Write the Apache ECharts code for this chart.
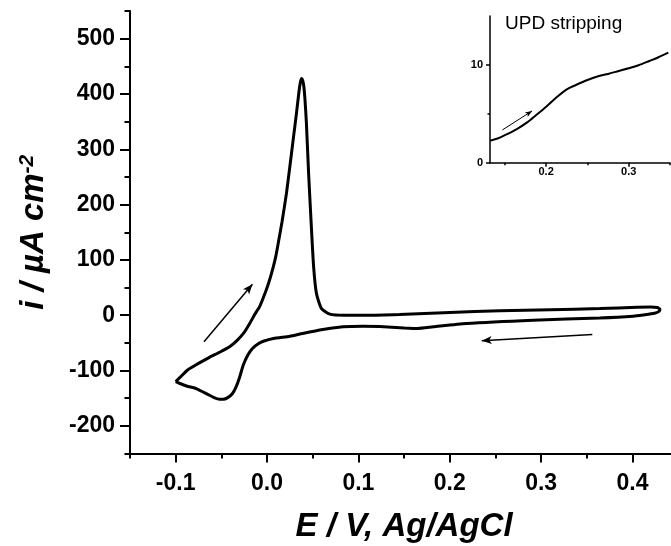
<!DOCTYPE html>
<html><head><meta charset="utf-8">
<script src="https://cdn.jsdelivr.net/npm/echarts@6/dist/echarts.min.js"></script>
<style>html,body{margin:0;padding:0;background:#fff}#c{width:671px;height:546px}</style>
</head><body><div id="c"></div>
<script>
// Main cyclic voltammogram, in path order (anodic sweep, then cathodic sweep)
const cvPotential = [-0.100,-0.095,-0.087,-0.076,-0.064,-0.052,-0.041,-0.033,-0.025,-0.019,-0.014,-0.008,-0.001,0.003,0.0066,0.0095,0.012,0.0165,0.0212,0.0249,0.0285,0.0322,0.0350,0.0365,0.0378,0.0391,0.0403,0.0415,0.0430,0.0455,0.0483,0.0510,0.0541,0.0596,0.0687,0.085,0.110,0.145,0.200,0.255,0.310,0.364,0.405,0.420,0.427,0.430,0.429,0.424,0.412,0.401,0.364,0.291,0.218,0.182,0.165,0.150,0.123,0.105,0.083,0.061,0.039,0.025,0.007,-0.004,-0.010,-0.016,-0.021,-0.026,-0.030,-0.034,-0.038,-0.043,-0.048,-0.052,-0.058,-0.065,-0.077,-0.088,-0.096,-0.100];
const cvCurrent = [-120,-112,-99,-88,-77,-67,-57,-46,-31,-15,0,16,45,65,86,106,128,170,220,268,316,365,405,421,428,424,413,390,350,256,166,87,39,12,2,0,0,1.5,5,8,10,12,14.5,15,14,11,7,3.5,0.5,-1.8,-5,-9,-15,-21,-24,-23,-20.5,-20,-21,-26,-33,-38,-42,-47,-52,-60,-72,-90,-112,-130,-142,-149,-152,-152,-149,-143,-133,-128,-123,-120];
// Inset: UPD stripping region
const insetPotential = [0.132,0.142,0.152,0.164,0.177,0.188,0.200,0.212,0.225,0.236,0.250,0.264,0.275,0.288,0.300,0.312,0.325,0.336,0.348];
const insetCurrent = [2.25,2.50,2.90,3.42,4.13,4.88,5.73,6.65,7.51,7.95,8.46,8.87,9.08,9.39,9.66,9.97,10.41,10.79,11.26];
// Ticks
const xMajorTicks = [-0.1,0,0.1,0.2,0.3,0.4];
const xMinorTicks = [-0.15,-0.05,0.05,0.15,0.25,0.35,0.45];
const yMajorTicks = [-200,-100,0,100,200,300,400,500];
const yMinorTicks = [-250,-150,-50,50,150,250,350,450,550];
const insetXMajor = [0.2,0.3];
const insetXMinor = [0.15,0.25,0.35];
const insetYMajor = [0,10];
const insetYMinor = [5];
// Sweep direction arrows [tail, head]
const arrowUp = [[-0.069,-48],[-0.016,56]];
const arrowBack = [[0.356,-35],[0.235,-46]];
const insetArrow = [[0.147,3.35],[0.183,5.3]];

const FF = '"Liberation Sans", Arial, sans-serif';
const cvData = cvPotential.map((v,i)=>[v,cvCurrent[i]]);
const insetData = insetPotential.map((v,i)=>[v,insetCurrent[i]]);

function ax(o){
  return Object.assign({
    type:'value', splitLine:{show:false},
    axisLine:{show:true,onZero:false,lineStyle:{color:'#000',width:2}},
  }, o);
}
const hidden = {show:false,onZero:false};
const chart = echarts.init(document.getElementById('c'), null, {renderer:'canvas'});
chart.setOption({
  animation:false,
  backgroundColor:'#fff',
  grid:[
    {left:130, top:11, right:-7.2, bottom:92.5, outerBoundsMode:'none', containLabel:false},
    {left:490, top:16.1, right:1, bottom:383.3, outerBoundsMode:'none', containLabel:false}
  ],
  xAxis:[
    ax({gridIndex:0, min:-0.15, max:0.45, position:'bottom',
      axisTick:{customValues:xMajorTicks, length:9, lineStyle:{color:'#000',width:2}},
      axisLabel:{customValues:xMajorTicks, formatter:v=>v.toFixed(1), fontSize:23, fontWeight:'bold', fontFamily:FF, color:'#000', margin:19},
      name:'E / V, Ag/AgCl', nameLocation:'middle', nameGap:57,
      nameTextStyle:{fontSize:33, fontWeight:'bold', fontStyle:'italic', fontFamily:FF, color:'#000'}}),
    ax({gridIndex:0, min:-0.15, max:0.45, position:'bottom', axisLine:hidden,
      axisTick:{customValues:xMinorTicks, length:5, lineStyle:{color:'#000',width:2}},
      axisLabel:{show:false}}),
    ax({gridIndex:1, min:0.132, max:0.35, position:'bottom', axisLine:{show:true,onZero:false,lineStyle:{color:'#000',width:1.5}},
      axisTick:{customValues:insetXMajor, length:4, lineStyle:{color:'#000',width:1.5}},
      axisLabel:{customValues:insetXMajor, formatter:v=>v.toFixed(1), fontSize:11, fontWeight:'bold', fontFamily:FF, color:'#000', margin:4}}),
    ax({gridIndex:1, min:0.132, max:0.35, position:'bottom', axisLine:hidden,
      axisTick:{customValues:insetXMinor, length:2.5, lineStyle:{color:'#000',width:1.5}},
      axisLabel:{show:false}})
  ],
  yAxis:[
    ax({gridIndex:0, min:-250, max:550, position:'left',
      axisTick:{customValues:yMajorTicks, length:10, lineStyle:{color:'#000',width:2}},
      axisLabel:{customValues:yMajorTicks, fontSize:23, fontWeight:'bold', fontFamily:FF, color:'#000', margin:15},
      name:'{a|i / µA cm}{b|-2}', nameLocation:'middle', nameGap:80,
      nameTextStyle:{rich:{
        a:{fontSize:33, fontWeight:'bold', fontStyle:'italic', fontFamily:FF, color:'#000'},
        b:{fontSize:21, fontWeight:'bold', fontStyle:'italic', fontFamily:FF, color:'#000', verticalAlign:'top'}
      }}}),
    ax({gridIndex:0, min:-250, max:550, position:'left', axisLine:hidden,
      axisTick:{customValues:yMinorTicks, length:5.5, lineStyle:{color:'#000',width:2}},
      axisLabel:{show:false}}),
    ax({gridIndex:1, min:0, max:15, position:'left', axisLine:{show:true,onZero:false,lineStyle:{color:'#000',width:1.5}},
      axisTick:{customValues:insetYMajor, length:4, lineStyle:{color:'#000',width:1.5}},
      axisLabel:{customValues:insetYMajor, fontSize:11, fontWeight:'bold', fontFamily:FF, color:'#000', margin:7}}),
    ax({gridIndex:1, min:0, max:15, position:'left', axisLine:hidden,
      axisTick:{customValues:insetYMinor, length:2.5, lineStyle:{color:'#000',width:1.5}},
      axisLabel:{show:false}})
  ],
  series:[
    {type:'line', xAxisIndex:0, yAxisIndex:0, data:cvData, showSymbol:false, smooth:0.2, silent:true,
      lineStyle:{color:'#000', width:3},
      markLine:{silent:true, symbol:['none','arrow'], symbolSize:[6,10], label:{show:false},
        lineStyle:{color:'#000', width:1.5, type:'solid'}, emphasis:{disabled:true},
        data:[[{coord:arrowUp[0]},{coord:arrowUp[1]}],[{coord:arrowBack[0]},{coord:arrowBack[1]}]]}},
    {type:'line', xAxisIndex:2, yAxisIndex:2, data:insetData, showSymbol:false, smooth:0.3, silent:true,
      lineStyle:{color:'#000', width:2},
      markLine:{silent:true, symbol:['none','arrow'], symbolSize:[4,7], label:{show:false},
        lineStyle:{color:'#000', width:1, type:'solid'}, emphasis:{disabled:true},
        data:[[{coord:insetArrow[0]},{coord:insetArrow[1]}]]}}
  ],
  graphic:[
    {type:'text', left:505, top:14, style:{text:'UPD stripping', fontSize:19, fontFamily:FF, fill:'#000'}}
  ]
});
</script></body></html>
